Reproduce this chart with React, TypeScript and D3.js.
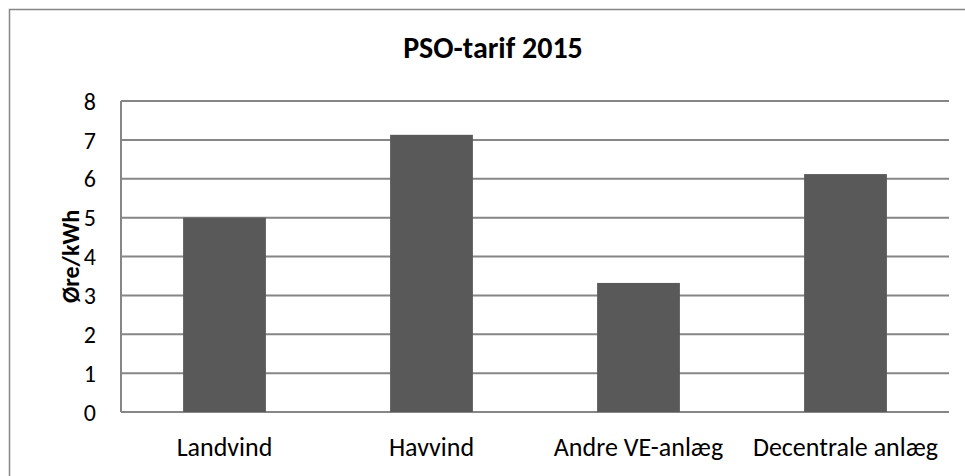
import * as d3 from "d3";

const categories = ["Landvind", "Havvind", "Andre VE-anlæg", "Decentrale anlæg"];
const values = [5.0, 7.13, 3.32, 6.12];
const yTicks = [0, 1, 2, 3, 4, 5, 6, 7, 8];
const title = "PSO-tarif 2015";
const yLabel = "Øre/kWh";

const W = 965;
const H = 476;
const plot = { left: 121, right: 949, top: 101, bottom: 412 };
const font = "Carlito, Calibri, Lato, sans-serif";

export default function App() {
  const x = d3
    .scaleBand<string>()
    .domain(categories)
    .range([plot.left, plot.right])
    .paddingInner(0.6)
    .paddingOuter(0.3);
  const y = d3.scaleLinear().domain([0, 8]).range([plot.bottom, plot.top]);
  const step = x.step();

  return (
    <svg
      width={W}
      height={H}
      style={{ position: "absolute", left: 0, top: 0 }}
      fontFamily={font}
    >
      <rect x={0} y={0} width={W} height={H} fill="white" />
      {/* chart border, right and bottom edges run off the picture */}
      <rect
        x={9.5}
        y={9.5}
        width={W + 20}
        height={H + 20}
        fill="none"
        stroke="#868686"
        strokeWidth={1.5}
      />
      <text x={493} y={58} textAnchor="middle" fontSize={30} fontWeight="bold">
        {title}
      </text>
      {/* gridlines */}
      {yTicks.map((t) => (
        <line
          key={t}
          x1={plot.left}
          x2={plot.right}
          y1={y(t)}
          y2={y(t)}
          stroke="#868686"
          strokeWidth={2}
        />
      ))}
      <line
        x1={plot.left}
        x2={plot.left}
        y1={plot.top}
        y2={plot.bottom}
        stroke="#868686"
        strokeWidth={2}
      />
      {/* bars */}
      {categories.map((c, i) => (
        <rect
          key={c}
          x={x(c)}
          y={y(values[i])}
          width={x.bandwidth()}
          height={y(0) - y(values[i])}
          fill="#595959"
        />
      ))}
      {/* y tick labels */}
      {yTicks.map((t) => (
        <text
          key={t}
          x={96}
          y={y(t)}
          dy="0.36em"
          textAnchor="end"
          fontSize={24}
        >
          {t}
        </text>
      ))}
      {/* category labels */}
      {categories.map((c, i) => (
        <text
          key={c}
          x={plot.left + step * (i + 0.5)}
          y={456}
          textAnchor="middle"
          fontSize={26}
        >
          {c}
        </text>
      ))}
      <text
        transform={`translate(79,${(plot.top + plot.bottom) / 2}) rotate(-90)`}
        textAnchor="middle"
        fontSize={24}
        fontWeight="bold"
      >
        {yLabel}
      </text>
    </svg>
  );
}
